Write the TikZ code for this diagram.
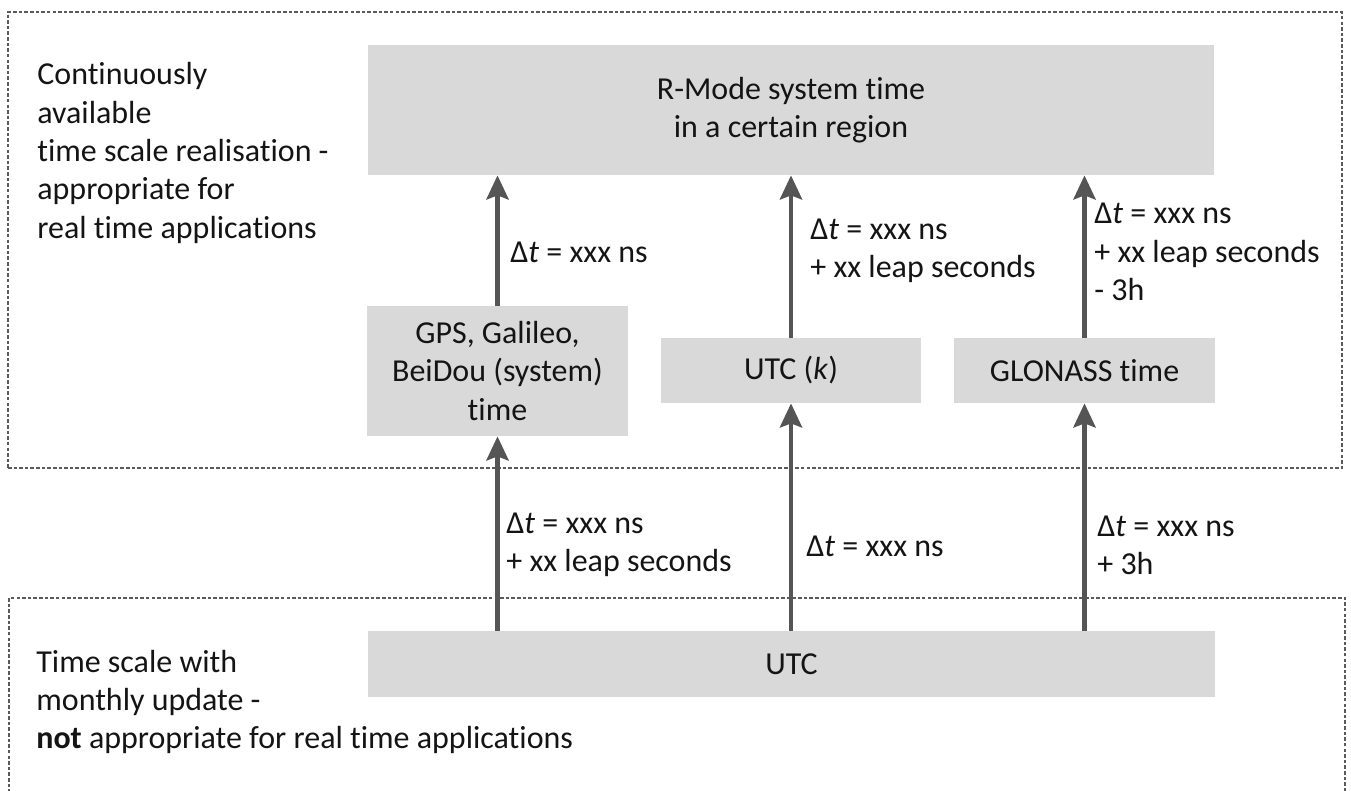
\documentclass[tikz,border=0pt]{standalone}
\usepackage{fontspec}
\setmainfont{Carlito}[Ligatures=NoCommon]
\usepackage{xcolor}
\usepackage{tikz}
\usetikzlibrary{arrows.meta, positioning, calc}
\definecolor{boxcolor}{RGB}{217, 217, 217}
\definecolor{arrowcolor}{RGB}{85, 85, 85}
\definecolor{framecolor}{RGB}{90, 90, 90}
\definecolor{textcolor}{RGB}{20, 20, 20}

\begin{document}
\begin{tikzpicture}[
    region/.style={draw=framecolor, line width=0.8pt, dash pattern=on 2pt off 1.2pt, inner sep=0pt},
    timebox/.style={fill=boxcolor, inner sep=0pt, align=center, text=textcolor, font=\fontsize{18.2}{21.8}\selectfont},
    offset/.style={anchor=west, inner sep=0pt, align=left, text=textcolor, font=\fontsize{18.2}{21.8}\selectfont},
    link/.style={draw=arrowcolor, line width=2.8pt, -{Stealth[length=0.48cm, width=0.44cm, inset=0.08cm]}},
]
    \useasboundingbox (0, 0) rectangle (27.02, -15.82);

    % Regions
    \node[region, minimum width=26.68cm, minimum height=9.12cm] (realtime) at (13.5, -4.8) {};
    \node[region, minimum width=26.72cm, minimum height=5.04cm] (monthly) at (13.54, -14.48) {};

    \node[offset] (realtimetext) at (0.74, -3.06) {Continuously\\available\\time scale realisation -\\appropriate for\\real time applications};
    \node[offset] (monthlytext) at (0.72, -14.04) {Time scale with\\monthly update -\\\textbf{not} appropriate for real time applications};

    % Time scales
    \node[timebox, minimum width=16.92cm, minimum height=2.6cm] (rmode) at (15.82, -2.2) {R-Mode system time\\in a certain region};
    \node[timebox, minimum width=5.22cm, minimum height=2.6cm] (gnss) at (9.95, -7.42) {GPS, Galileo,\\BeiDou (system)\\time};
    \node[timebox, minimum width=5.2cm, minimum height=1.3cm] (utck) at (15.82, -7.41) {UTC (\textit{k})};
    \node[timebox, minimum width=5.22cm, minimum height=1.3cm] (glonass) at (21.69, -7.41) {GLONASS time};
    \node[timebox, minimum width=16.94cm, minimum height=1.32cm] (utc) at (15.83, -13.28) {UTC};

    % Upper links
    \draw[link] (gnss.north) -- (gnss.north |- rmode.south);
    \draw[link] (utck.north) -- (utck.north |- rmode.south);
    \draw[link] (glonass.north) -- (glonass.north |- rmode.south);

    % Lower links
    \draw[link] (gnss.south |- utc.north) -- (gnss.south);
    \draw[link] (utck.south |- utc.north) -- (utck.south);
    \draw[link] (glonass.south |- utc.north) -- (glonass.south);

    % Offsets
    \node[offset] (gnssup) at (10.2, -5.04) {Δ\textit{t} = xxx ns};
    \node[offset] (utckup) at (16.2, -5.02) {Δ\textit{t} = xxx ns\\+ xx leap seconds};
    \node[offset] (glonassup) at (21.88, -5.04) {Δ\textit{t} = xxx ns\\+ xx leap seconds\\- 3h};
    \node[offset] (gnssdown) at (10.12, -10.9) {Δ\textit{t} = xxx ns\\+ xx leap seconds};
    \node[offset] (utckdown) at (16.12, -10.92) {Δ\textit{t} = xxx ns};
    \node[offset] (glonassdown) at (21.94, -10.9) {Δ\textit{t} = xxx ns\\+ 3h};

\end{tikzpicture}
\end{document}
